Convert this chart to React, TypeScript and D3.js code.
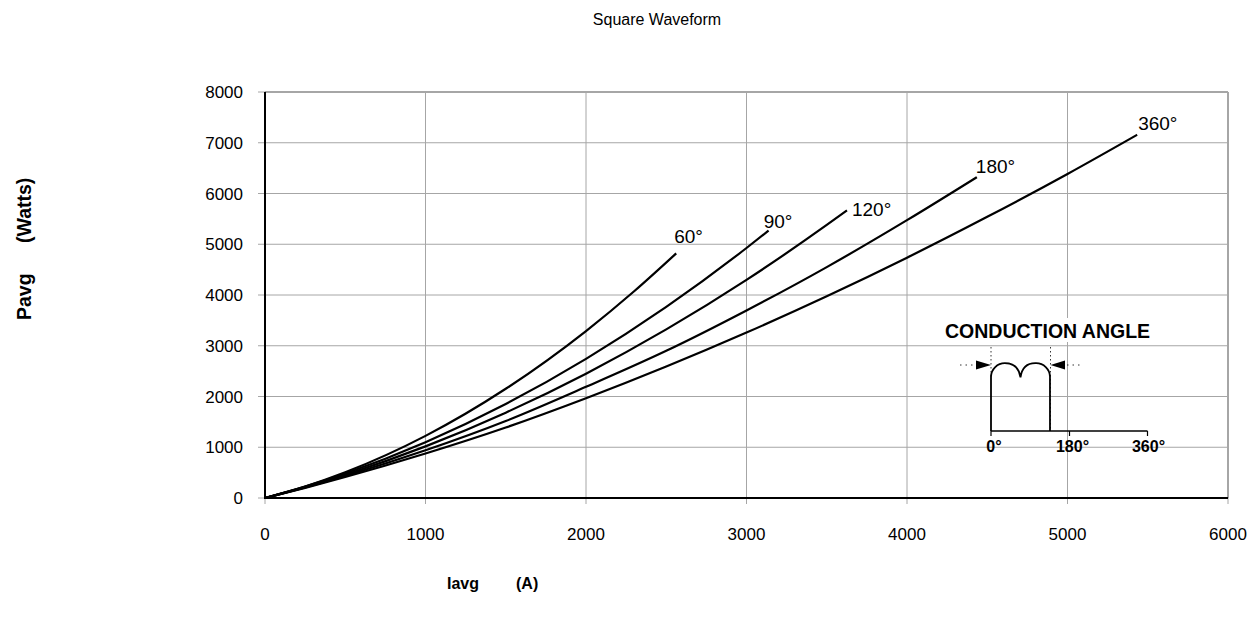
import React from 'react';
import * as d3 from 'd3';

// ---- data ----
const xTicks = [0, 1000, 2000, 3000, 4000, 5000, 6000];
const yTicks = [0, 1000, 2000, 3000, 4000, 5000, 6000, 7000, 8000];

const angleLabels = ['60°', '90°', '120°', '180°', '360°'];

const iavg60 = [0, 250, 500, 1000, 1500, 2000, 2300, 2562];
const pavg60 = [0, 227, 507, 1224, 2152, 3290, 4074, 4820];

const iavg90 = [0, 250, 500, 1000, 1500, 2000, 2500, 3000, 3138];
const pavg90 = [0, 224, 482, 1100, 1853, 2742, 3766, 4926, 5270];

const iavg120 = [0, 250, 500, 1000, 1500, 2000, 2500, 3000, 3500, 3626];
const pavg120 = [0, 215, 457, 1017, 1682, 2450, 3322, 4299, 5380, 5668];

const iavg180 = [0, 250, 500, 1000, 1500, 2000, 2500, 3000, 3500, 4000, 4435];
const pavg180 = [0, 209, 435, 940, 1517, 2190, 2900, 3695, 4550, 5475, 6322];

const iavg360 = [0, 250, 500, 1000, 1500, 2000, 2500, 3000, 3500, 4000, 4500, 5000, 5434];
const pavg360 = [0, 200, 413, 876, 1388, 1965, 2590, 3260, 3975, 4735, 5540, 6385, 7157];

const insetTickLabels = ['0°', '180°', '360°'];

const seriesI = [iavg60, iavg90, iavg120, iavg180, iavg360];
const seriesP = [pavg60, pavg90, pavg120, pavg180, pavg360];

// ---- styling / layout ----
const W = 1259;
const H = 625;
const FONT = 'Liberation Sans, Arial, Helvetica, sans-serif';
const labelOffsets: [number, number][] = [
  [-2, -10],
  [-5, -3],
  [5, 6],
  [-1, -4],
  [1, -5],
];

export default function App() {
  const x = d3.scaleLinear().domain([0, 6000]).range([265, 1228]);
  const y = d3.scaleLinear().domain([0, 8000]).range([498, 92]);
  const line = d3
    .line<[number, number]>()
    .x((d) => x(d[0]))
    .y((d) => y(d[1]))
    .curve(d3.curveMonotoneX);

  const grid = '#a6a6a6';

  // inset geometry
  const ix0 = 991; // 0°
  const ix180 = 1069.5;
  const ix360 = 1147.5;
  const iBase = 431;
  const iTop = 377;
  const iCond = 1050;
  const mid = (ix0 + iCond) / 2;
  const humpR = (mid - ix0) / 2 + 0.6;
  const wave = d3.path();
  wave.moveTo(ix0, iBase);
  wave.lineTo(ix0, iTop);
  wave.arcTo(ix0 + 0.5, iTop - humpR * 0.9, (ix0 + mid) / 2, iTop - humpR * 0.9, humpR * 0.9);
  wave.quadraticCurveTo(mid - 2, iTop - humpR * 0.9, mid, iTop + 0.5);
  wave.quadraticCurveTo(mid + 2, iTop - humpR * 0.9, (mid + iCond) / 2, iTop - humpR * 0.9);
  wave.arcTo(iCond - 0.5, iTop - humpR * 0.9, iCond, iTop, humpR * 0.9);
  wave.lineTo(iCond, iBase);

  const arrowY = 365;

  return (
    <svg
      width={W}
      height={H}
      style={{ position: 'absolute', left: 0, top: 0, background: '#fff' }}
      fontFamily={FONT}
    >
      <rect x={0} y={0} width={W} height={H} fill="#fff" />
      <text x={657} y={25} fontSize={16} textAnchor="middle" fill="#000">
        Square Waveform
      </text>

      {/* gridlines */}
      {xTicks.map((t) => (
        <line key={'gx' + t} x1={x(t)} x2={x(t)} y1={y(8000)} y2={y(0) + 6} stroke={grid} strokeWidth={1} />
      ))}
      {yTicks.map((t) => (
        <line key={'gy' + t} x1={x(0) - 7} x2={x(6000)} y1={y(t)} y2={y(t)} stroke={grid} strokeWidth={1} />
      ))}
      <line x1={x(6000)} x2={x(6000)} y1={y(8000)} y2={y(0)} stroke={grid} strokeWidth={2} />
      <line x1={x(0)} x2={x(6000)} y1={y(8000)} y2={y(8000)} stroke={grid} strokeWidth={2} />

      {/* axes */}
      <line x1={x(0)} x2={x(0)} y1={y(8000)} y2={y(0) + 1} stroke="#000" strokeWidth={2} />
      <line x1={x(0)} x2={x(6000)} y1={y(0)} y2={y(0)} stroke="#000" strokeWidth={2} />

      {/* tick labels */}
      {yTicks.map((t) => (
        <text key={'ly' + t} x={243} y={y(t)} dy="0.36em" fontSize={17} textAnchor="end" fill="#000">
          {t}
        </text>
      ))}
      {xTicks.map((t) => (
        <text key={'lx' + t} x={x(t)} y={540} fontSize={17} textAnchor="middle" fill="#000">
          {t}
        </text>
      ))}

      {/* axis titles */}
      <text x={447} y={589} fontSize={16} fontWeight="bold" fill="#000">Iavg</text>
      <text x={516} y={589} fontSize={16} fontWeight="bold" fill="#000">(A)</text>
      <g transform="rotate(-90)">
        <text x={-320} y={31} fontSize={19.5} fontWeight="bold" fill="#000">Pavg</text>
        <text x={-243} y={31} fontSize={19.5} fontWeight="bold" fill="#000">(Watts)</text>
      </g>

      {/* curves */}
      {seriesI.map((is, k) => {
        const pts = is.map((v, j) => [v, seriesP[k][j]] as [number, number]);
        const last = pts[pts.length - 1];
        return (
          <g key={'s' + k}>
            <path d={line(pts) || ''} fill="none" stroke="#000" strokeWidth={2.2} />
            <text
              x={x(last[0]) + labelOffsets[k][0]}
              y={y(last[1]) + labelOffsets[k][1]}
              fontSize={19}
              fill="#000"
            >
              {angleLabels[k]}
            </text>
          </g>
        );
      })}

      {/* inset */}
      <g>
        <rect x={940} y={318} width={220} height={24} fill="#fff" />
        <text x={945} y={338} fontSize={19.5} fontWeight="bold" fill="#000">
          CONDUCTION ANGLE
        </text>
        <line x1={ix0} x2={ix360} y1={iBase} y2={iBase} stroke="#000" strokeWidth={1.6} />
        {[ix0, ix180, ix360].map((tx, i) => (
          <line key={'it' + i} x1={tx} x2={tx} y1={iBase} y2={iBase + 5} stroke="#000" strokeWidth={1.2} />
        ))}
        <path d={wave.toString()} fill="none" stroke="#000" strokeWidth={1.8} />
        <line x1={ix0} x2={ix0} y1={347} y2={iTop} stroke="#000" strokeWidth={0.8} strokeDasharray="1.5,2.5" />
        <line x1={iCond + 0.5} x2={iCond + 0.5} y1={347} y2={iBase} stroke="#000" strokeWidth={0.8} strokeDasharray="1.5,2.5" />
        <line x1={960} x2={975} y1={arrowY} y2={arrowY} stroke="#000" strokeWidth={0.8} strokeDasharray="1.5,4" />
        <path d={`M${ix0},${arrowY} L${ix0 - 15},${arrowY - 4.5} L${ix0 - 15},${arrowY + 4.5} Z`} fill="#000" />
        <path d={`M${iCond + 0.5},${arrowY} L${iCond + 15},${arrowY - 4.5} L${iCond + 15},${arrowY + 4.5} Z`} fill="#000" />
        <line x1={1067} x2={1081} y1={arrowY} y2={arrowY} stroke="#000" strokeWidth={0.8} strokeDasharray="1.5,4" />
        {[ix0 + 3, ix180 + 3, ix360 + 1].map((tx, i) => (
          <text key={'itl' + i} x={tx} y={452} fontSize={16} fontWeight="bold" textAnchor="middle" fill="#000">
            {insetTickLabels[i]}
          </text>
        ))}
      </g>
    </svg>
  );
}
